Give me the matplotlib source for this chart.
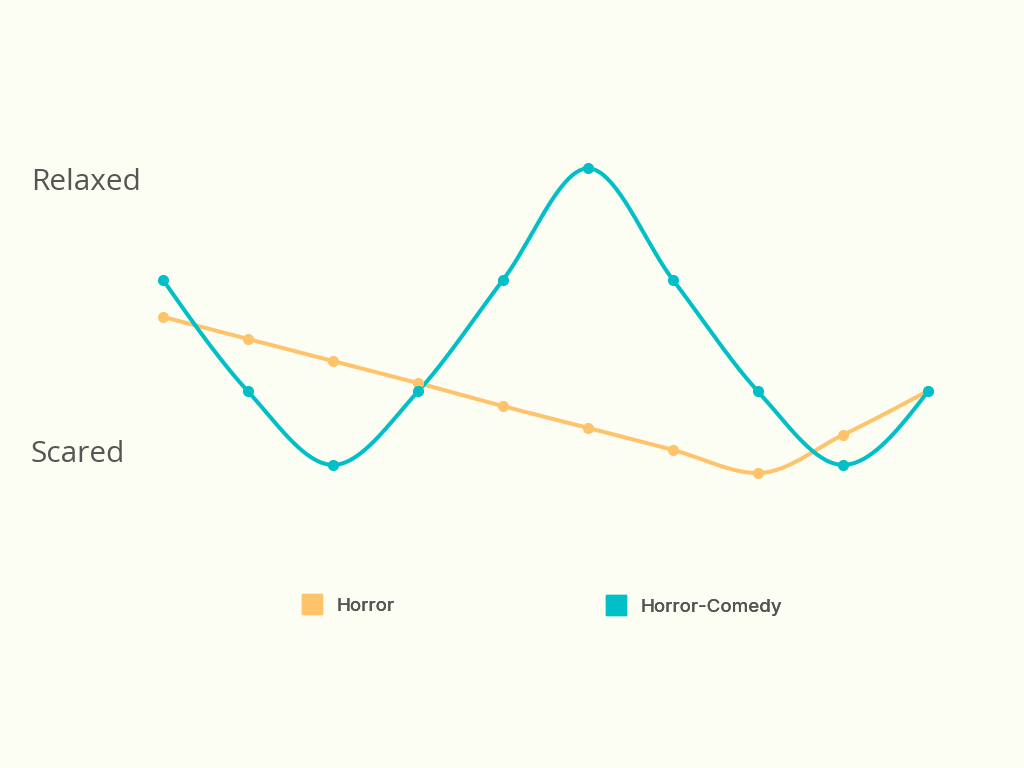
import matplotlib.pyplot as plt
import numpy as np
from matplotlib.lines import Line2D

plt.rc("font", family=["Open Sans", "DejaVu Sans"])

# mood scale: 0 = Scared, 10 = Relaxed
steps = np.arange(10)
horror = [5.04, 4.23, 3.42, 2.61, 1.76, 0.96, 0.15, -0.70, 0.70, 2.32]
horror_comedy = [6.4, 2.3, -0.4, 2.3, 6.4, 10.5, 6.4, 2.3, -0.4, 2.3]
mood_ticks = [0, 10]
mood_labels = ["Scared", "Relaxed"]
series_names = ["Horror", "Horror-Comedy"]

ORANGE = "#FFC46B"
TEAL = "#00BFC7"
TEXT = "#555555"
BG = "#FCFEF4"


def monotone_curve(x, y, n=40):
    # monotone cubic (like d3 curveMonotoneX)
    x = np.asarray(x, float)
    y = np.asarray(y, float)
    h = np.diff(x)
    s = np.diff(y) / h
    t = np.zeros_like(y)
    for i in range(1, len(y) - 1):
        s0, s1 = s[i - 1], s[i]
        p = (s0 * h[i] + s1 * h[i - 1]) / (h[i - 1] + h[i])
        t[i] = (np.sign(s0) + np.sign(s1)) * min(abs(s0), abs(s1), 0.5 * abs(p))
    t[0] = (3 * s[0] - t[1]) / 2
    t[-1] = (3 * s[-1] - t[-2]) / 2
    xs, ys = [], []
    for i in range(len(x) - 1):
        u = np.linspace(0, 1, n)
        h00 = 2 * u**3 - 3 * u**2 + 1
        h10 = u**3 - 2 * u**2 + u
        h01 = -2 * u**3 + 3 * u**2
        h11 = u**3 - u**2
        xs.append(x[i] + u * h[i])
        ys.append(h00 * y[i] + h10 * h[i] * t[i] + h01 * y[i + 1] + h11 * h[i] * t[i + 1])
    return np.concatenate(xs), np.concatenate(ys)


fig = plt.figure(figsize=(10.24, 7.68), dpi=100, facecolor=BG)
ax = fig.add_axes([0, 0, 1, 1])
ax.set_facecolor(BG)
ax.axis("off")

# map data to the pixel layout of the reference
ax.set_xlim(-163 / 85, 9 + 96 / 85)
ax.set_ylim((454 - 768) / 27.2, 454 / 27.2)

for vals, color in [(horror, ORANGE), (horror_comedy, TEAL)]:
    cx, cy = monotone_curve(steps, vals)
    ax.plot(cx, cy, color=color, lw=2.9, solid_capstyle="round", zorder=2)
    ax.plot(steps, vals, "o", color=color, ms=7, zorder=3)

for v, lab in zip(mood_ticks, mood_labels):
    ax.text(-132 / 85, v, lab, ha="left", va="center", fontsize=21.5, color=TEXT)

# one legend per entry so each can sit at its own spot
legend_x = [284, 588]
legend_y = [606, 607]
for name, color, lx, ly in zip(series_names, [ORANGE, TEAL], legend_x, legend_y):
    leg = fig.legend(
        [Line2D([], [], marker="s", ls="none", ms=14, color=color)], [name],
        frameon=False, loc="center left",
        bbox_to_anchor=(lx / 1024, 1 - ly / 768),
        handletextpad=0.7, handlelength=1.2,
        prop={"family": ["Inter", "DejaVu Sans"], "weight": "medium", "size": 13.5},
    )
    for txt in leg.get_texts():
        txt.set_color(TEXT)
    fig.add_artist(leg)

plt.savefig("out.png", dpi=100, facecolor=BG)
